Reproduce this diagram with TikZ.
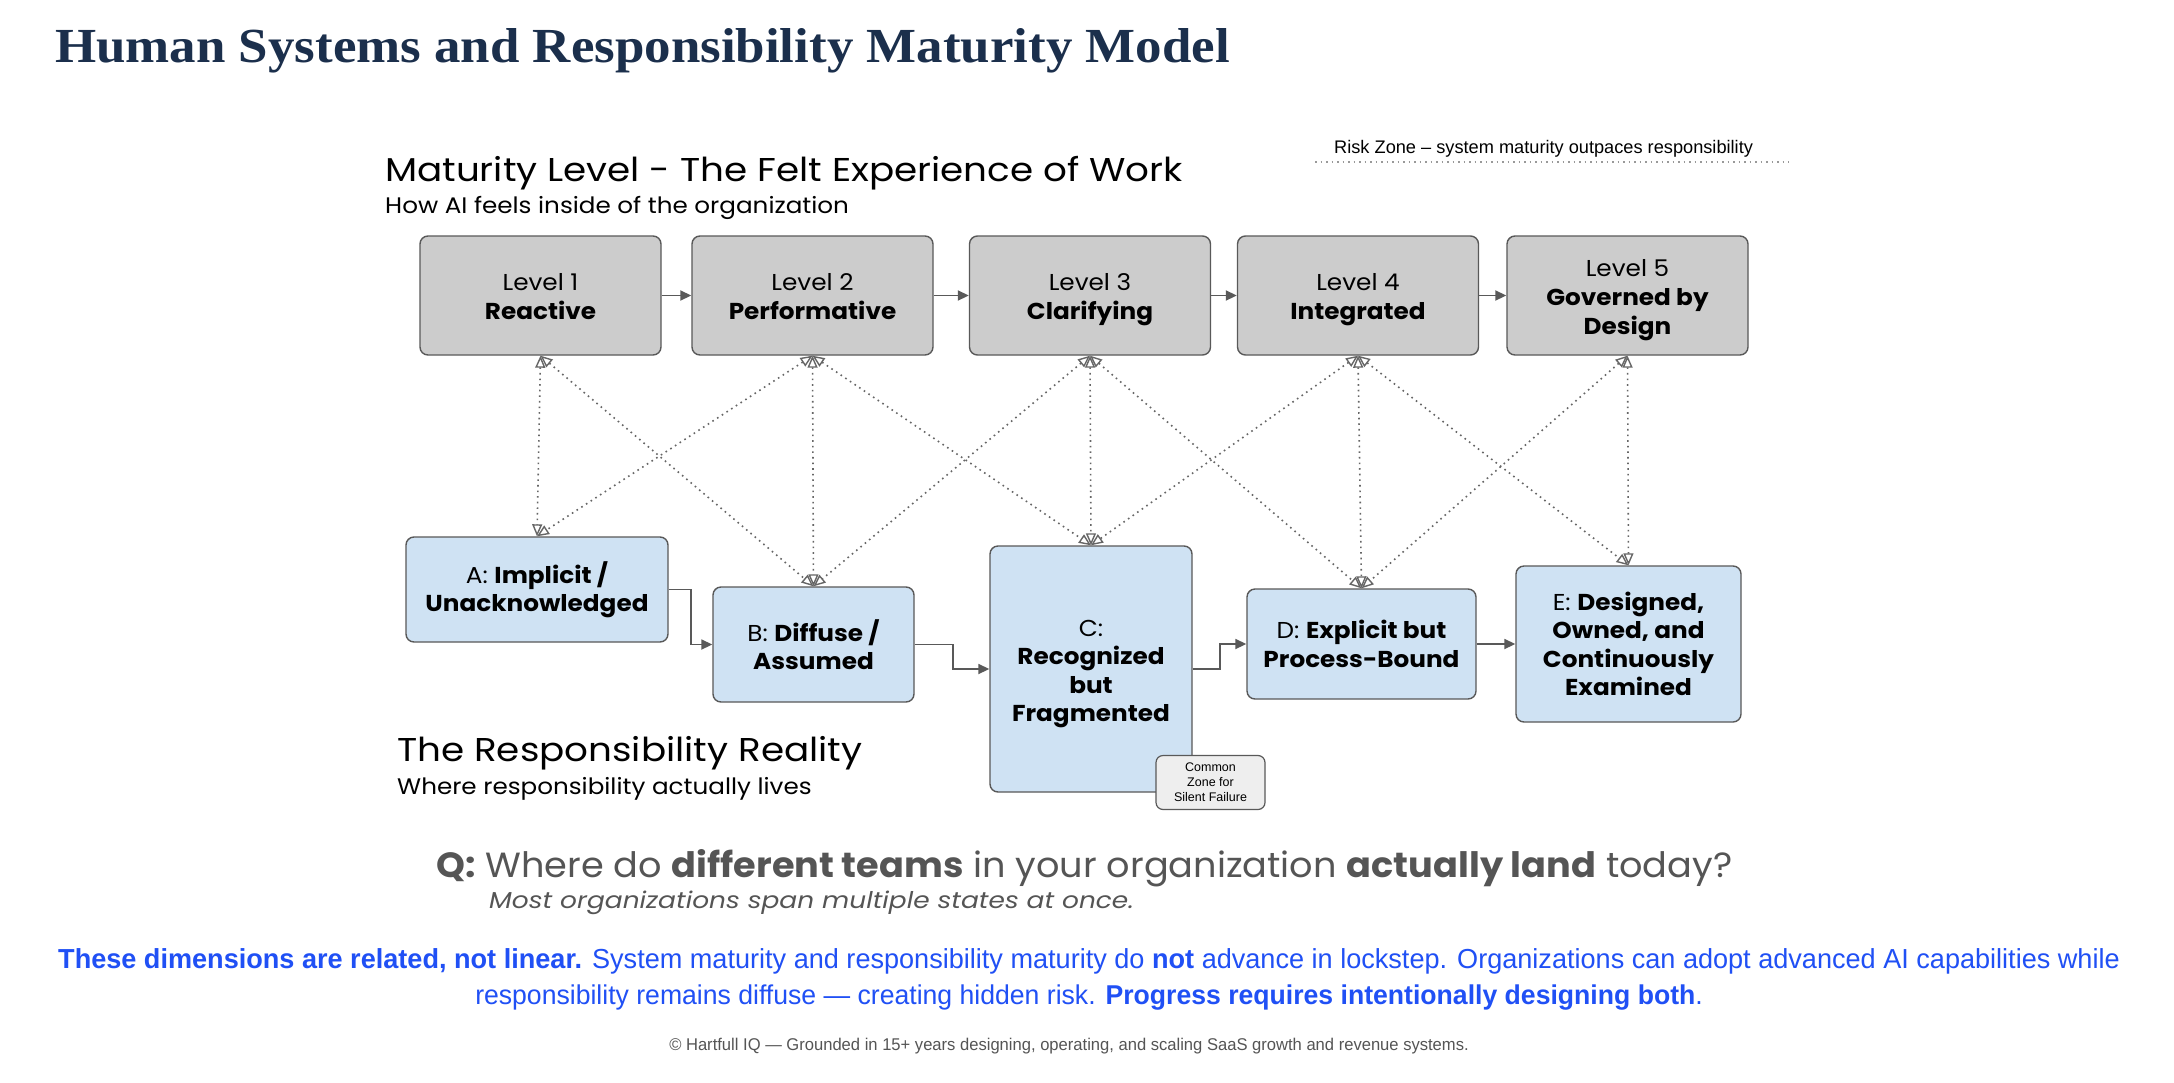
\documentclass[tikz,border=0pt]{standalone}
\usepackage{fontspec}
\setmainfont{Liberation Sans}
\newfontfamily\montB[FakeStretch=1.075]{Poppins}
\newfontfamily\montH[FakeStretch=1.13]{Poppins}
\newfontfamily\montS[FakeStretch=1.095]{Poppins}
\newfontfamily\montQ[FakeStretch=1.048]{Poppins}
\newfontfamily\montI[FakeStretch=1.15]{Poppins}
\newfontfamily\titlef[FakeStretch=1.08]{Liberation Serif}
\newfontfamily\robo[FakeStretch=0.985]{Liberation Sans}
\newfontfamily\roboL[FakeStretch=0.978]{Liberation Sans}
\newfontfamily\roboF[FakeStretch=0.975]{Liberation Sans}
\usetikzlibrary{arrows.meta,calc}
\definecolor{navy}{HTML}{1B2F4C}
\definecolor{lvlfill}{HTML}{CCCCCC}
\definecolor{respfill}{HTML}{CFE2F3}
\definecolor{edgegray}{HTML}{595959}
\definecolor{dotgray}{HTML}{666666}
\definecolor{qgray}{HTML}{555555}
\definecolor{bluetxt}{HTML}{2050F5}
\definecolor{zonefill}{HTML}{EEEEEE}
\tikzset{
  lvlbox/.style={draw=edgegray, line width=1.4pt, fill=lvlfill, rounded corners=8pt,
    minimum width=241pt, minimum height=119pt, inner sep=0pt, align=center,
    font=\montB\fontsize{23}{29}\selectfont},
  respbox/.style={draw=edgegray, line width=1.4pt, fill=respfill, rounded corners=8pt,
    inner sep=0pt, align=center, font=\montB\fontsize{23}{28.5}\selectfont},
  boxtext/.style={inner sep=0pt, align=center, font=\montB\fontsize{23}{28.5}\selectfont},
  lvltext/.style={inner sep=0pt, align=center, font=\montB\fontsize{23}{29}\selectfont},
  zonebox/.style={draw=edgegray, line width=1.2pt, fill=zonefill, rounded corners=7pt,
    minimum width=109pt, minimum height=54pt, inner sep=0pt, align=center,
    font=\fontsize{12.5}{15}\selectfont},
  solidarrow/.style={draw=edgegray, line width=1.8pt, -{Triangle[length=11pt,width=10pt]}},
  dotarrow/.style={draw=dotgray, line width=1.6pt, dash pattern=on 1.6pt off 4pt,
    {Triangle[open,length=12pt,width=10pt,line width=1.4pt]}-{Triangle[open,length=12pt,width=10pt,line width=1.4pt]}},
  txt/.style={inner sep=0pt, anchor=base west}
}
\begin{document}
\begin{tikzpicture}[x=1pt,y=-1pt]
\path[use as bounding box, fill=white] (0,0) rectangle (2174,1082);

% title
\node[txt, text=navy, font=\titlef\bfseries\fontsize{49}{52}\selectfont] (title) at (55,62) {Human Systems and Responsibility Maturity Model};

% headers
\node[txt, font=\montH\fontsize{33}{38}\selectfont] (h1) at (385,181) {Maturity Level - The Felt Experience of Work};
\node[txt, font=\montS\fontsize{22.5}{26}\selectfont] (h1s) at (385,213) {How AI feels inside of the organization};
\node[txt, font=\fontsize{18.2}{22}\selectfont] (risk) at (1334,153) {Risk Zone -- system maturity outpaces responsibility};
\coordinate (rz1) at (1315,162);
\coordinate (rz2) at (1789,162);
\draw[draw=gray!80, line width=1.5pt, dash pattern=on 1.5pt off 4pt] (rz1) -- (rz2);

\node[txt, font=\montH\fontsize{33}{38}\selectfont] (h2) at (397,761) {The Responsibility Reality};
\node[txt, font=\montS\fontsize{22.5}{26}\selectfont] (h2s) at (397,794) {Where responsibility actually lives};

% level boxes
\node[lvlbox, label={[lvltext, yshift=-1.5pt]center:{Level 1\\\textbf{Reactive}}}] (L1) at (540.5,295.5) {};
\node[lvlbox, label={[lvltext, yshift=-1.5pt]center:{Level 2\\\textbf{Performative}}}] (L2) at (812.5,295.5) {};
\node[lvlbox, label={[lvltext, yshift=-4pt]center:{Level 3\\\textbf{Clarifying}}}] (L3) at (1090,295.5) {};
\node[lvlbox, label={[lvltext, yshift=-4pt]center:{Level 4\\\textbf{Integrated}}}] (L4) at (1358,295.5) {};
\node[lvlbox, label={[lvltext, yshift=-5pt]center:{Level 5\\\textbf{Governed by}\\\textbf{Design}}}] (L5) at (1627.5,295.5) {};

% responsibility boxes
\node[respbox, minimum width=262pt, minimum height=105pt] (A) at (537,589.5) {A: \textbf{Implicit /}\\\textbf{Unacknowledged}};
\node[respbox, minimum width=201pt, minimum height=115pt] (B) at (813.5,644.5) {B: \textbf{Diffuse /}\\\textbf{Assumed}};
\node[respbox, minimum width=202pt, minimum height=246pt, label={[boxtext, yshift=-5pt]center:{C:\\\textbf{Recognized}\\\textbf{but}\\\textbf{Fragmented}}}] (C) at (1091,669) {};
\node[respbox, minimum width=229pt, minimum height=110pt] (D) at (1361.5,644) {D: \textbf{Explicit but}\\\textbf{Process-Bound}};
\node[respbox, minimum width=225pt, minimum height=156pt] (E) at (1628.5,644) {E: \textbf{Designed,}\\\textbf{Owned, and}\\\textbf{Continuously}\\\textbf{Examined}};
\node[zonebox] (Z) at (1210.5,782.5) {Common\\Zone for\\Silent Failure};

% level arrows
\draw[solidarrow] (L1) -- (L2);
\draw[solidarrow] (L2) -- (L3);
\draw[solidarrow] (L3) -- (L4);
\draw[solidarrow] (L4) -- (L5);

% responsibility arrows
\draw[solidarrow] (A.east) -- ++(22.5,0) |- (B.west);
\draw[solidarrow] (B.east) -- ++(38,0) |- (C.west);
\draw[solidarrow] (C.east) -- ++(27.5,0) |- (D.west);
\draw[solidarrow] (D) -- (E);

% dotted relations
\draw[dotarrow] (L1.south) -- (A.north);
\draw[dotarrow] (L1.south) -- (B.north);
\draw[dotarrow] (L2.south) -- (A.north);
\draw[dotarrow] (L2.south) -- (B.north);
\draw[dotarrow] (L2.south) -- (C.north);
\draw[dotarrow] (L3.south) -- (B.north);
\draw[dotarrow] (L3.south) -- (C.north);
\draw[dotarrow] (L3.south) -- (D.north);
\draw[dotarrow] (L4.south) -- (C.north);
\draw[dotarrow] (L4.south) -- (D.north);
\draw[dotarrow] (L4.south) -- (E.north);
\draw[dotarrow] (L5.south) -- (D.north);
\draw[dotarrow] (L5.south) -- (E.north);

% question
\node[txt, text=qgray, font=\montQ\fontsize{35}{40}\selectfont] (q) at (436,877) {\textbf{Q:} Where do \textbf{different teams} in your organization \textbf{actually land} today?};
\node[txt, text=qgray, font=\montI\itshape\fontsize{23}{26}\selectfont] (qs) at (489,908) {Most organizations span multiple states at once.};

% paragraph
\node[inner sep=0pt, anchor=base, text=bluetxt, font=\robo\fontsize{27.5}{34}\selectfont] (p1) at (1089,968) {\textbf{These dimensions are related, not linear.} System maturity and responsibility maturity do \textbf{not} advance in lockstep. Organizations can adopt advanced AI capabilities while};
\node[inner sep=0pt, anchor=base, text=bluetxt, font=\roboL\fontsize{27.2}{34}\selectfont] (p2) at (1089,1004) {responsibility remains diffuse — creating hidden risk. \textbf{Progress requires intentionally designing both}.};

% footer
\node[inner sep=0pt, anchor=base, text=qgray, font=\roboF\fontsize{17}{20}\selectfont] (foot) at (1069,1050) {© Hartfull IQ — Grounded in 15+ years designing, operating, and scaling SaaS growth and revenue systems.};
\end{tikzpicture}
\end{document}
